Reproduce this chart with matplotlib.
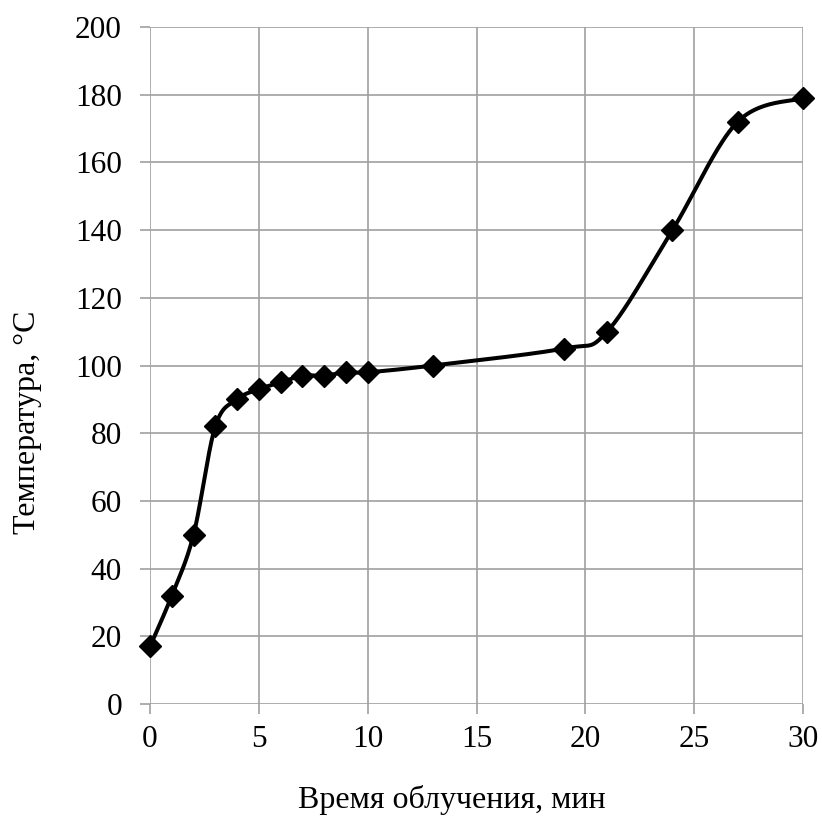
import numpy as np
import matplotlib
matplotlib.use("Agg")
import matplotlib.pyplot as plt

time_min = [0, 1, 2, 3, 4, 5, 6, 7, 8, 9, 10, 13, 19, 21, 24, 27, 30]
temp_c = [17, 32, 50, 82, 90, 93, 95, 97, 97, 98, 98, 100, 105, 110, 140, 172, 179]
x_ticks = [0, 5, 10, 15, 20, 25, 30]
y_ticks = [0, 20, 40, 60, 80, 100, 120, 140, 160, 180, 200]

plt.rcParams['font.family'] = ['Liberation Serif', 'DejaVu Serif']


def smooth(xs, ys, n=40):
    P = np.column_stack([xs, ys]).astype(float)
    out = []
    for i in range(len(P) - 1):
        p0 = P[i - 1] if i > 0 else P[i]
        p1 = P[i]
        p2 = P[i + 1]
        p3 = P[i + 2] if i + 2 < len(P) else P[i + 1]
        c1 = p1 + (p2 - p0) / 6.0
        c2 = p2 - (p3 - p1) / 6.0
        t = np.linspace(0, 1, n)[:, None]
        seg = ((1 - t) ** 3) * p1 + 3 * ((1 - t) ** 2) * t * c1 + 3 * (1 - t) * t ** 2 * c2 + t ** 3 * p2
        out.append(seg if i == 0 else seg[1:])
    s = np.vstack(out)
    return s[:, 0], s[:, 1]


W, H = 822, 817
fig = plt.figure(figsize=(W / 100, H / 100), dpi=100)
ax = fig.add_axes([150 / W, 1 - 704 / H, 653 / W, 677 / H])

sx, sy = smooth(time_min, temp_c)
ax.plot(sx, sy, color='black', lw=2.9, zorder=3, solid_capstyle='round')
ax.plot(time_min, temp_c, linestyle='none', marker='D', markersize=11,
        color='black', zorder=4, clip_on=False)

ax.set_xlim(0, 30)
ax.set_ylim(0, 200)
ax.set_xticks(x_ticks)
ax.set_yticks(y_ticks)
ax.grid(True, color='#a0a0a0', lw=1.2)
ax.set_axisbelow(True)
for sp in ax.spines.values():
    sp.set_visible(False)
ax.tick_params(axis='both', length=7.2, width=1.2, color='#a0a0a0',
               labelsize=22.5)
ax.tick_params(axis='y', pad=13)
ax.tick_params(axis='x', pad=8)

fig.text(452 / W, (H - 808) / H, 'Время облучения, мин', fontsize=23,
         ha='center', va='baseline')
fig.text(28 / W, 1 - 422 / H, 'Температура, °С', fontsize=23,
         ha='center', va='center', rotation=90)

fig.savefig('out.png', dpi=100, facecolor='white')
